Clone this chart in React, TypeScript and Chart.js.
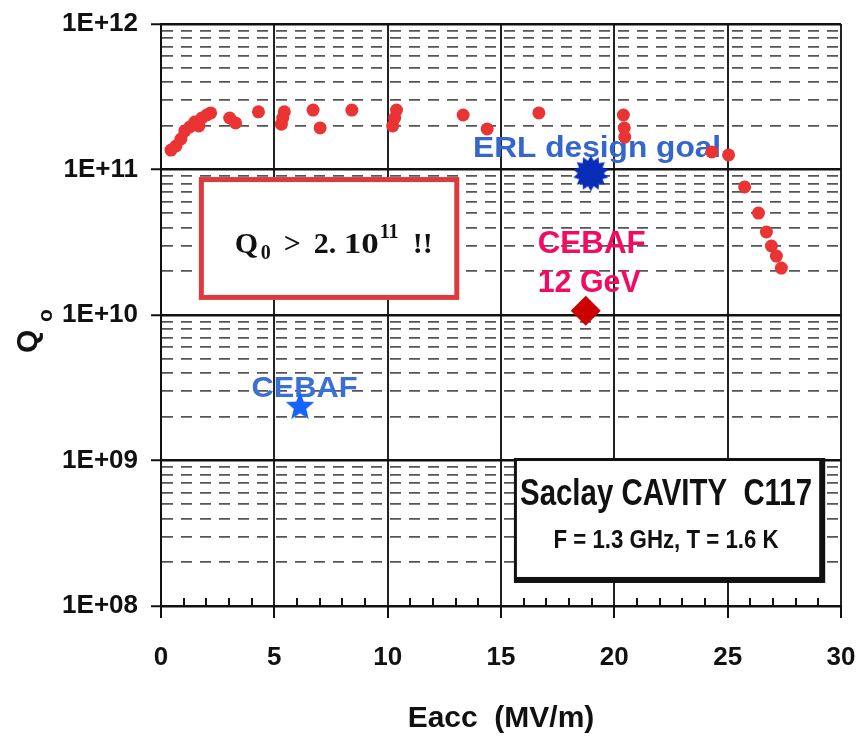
import React, { useEffect, useRef } from 'react';
import { Chart, registerables } from 'chart.js';

Chart.register(...registerables);

// ---------- data ----------
const measuredEacc = [0.44, 0.66, 0.88, 1.05, 1.27, 1.49, 1.67, 1.8, 2.02, 2.19, 3.03, 3.29, 4.3, 5.31, 5.37, 5.44, 6.71, 7.02, 8.42, 10.22, 10.31, 10.39, 13.33, 14.39, 16.67, 20.4, 20.44, 20.46, 24.3, 25.04, 25.75, 26.36, 26.71, 26.93, 27.15, 27.37];
const measuredQ0 = [1.36e11, 1.45e11, 1.62e11, 1.84e11, 1.96e11, 2.12e11, 1.99e11, 2.26e11, 2.37e11, 2.45e11, 2.26e11, 2.09e11, 2.49e11, 2.05e11, 2.26e11, 2.49e11, 2.56e11, 1.93e11, 2.56e11, 1.99e11, 2.26e11, 2.56e11, 2.37e11, 1.9e11, 2.45e11, 2.37e11, 1.93e11, 1.67e11, 1.32e11, 1.26e11, 7.59e10, 5.02e10, 3.72e10, 2.98e10, 2.54e10, 2.1e10];

const erlEacc = [18.96];
const erlQ0 = [9.4e10];
const cebaf12Eacc = [18.74];
const cebaf12Q0 = [1.07e10];
const cebafEacc = [6.13];
const cebafQ0 = [2.34e9];

const yDecades = [1e8, 1e9, 1e10, 1e11, 1e12];
const yTickLabels = ['1E+08', '1E+09', '1E+10', '1E+11', '1E+12'];
const yMinorFactors = [2, 3, 4, 5, 6, 7, 8, 9];
const xMajorValues = [0, 5, 10, 15, 20, 25, 30];
const xTickLabels = ['0', '5', '10', '15', '20', '25', '30'];

const W = 859;
const H = 743;
const SANS = "'Liberation Sans', Arial, sans-serif";
const SERIF = "'Liberation Serif', 'Times New Roman', serif";

const isMajorY = (v: number) => yDecades.some((d) => Math.abs(v - d) / d < 1e-6);
const isMajorX = (v: number) => xMajorValues.some((d) => Math.abs(v - d) < 1e-6);

function makeStar(points: number, outer: number, inner: number, color: string) {
  const size = Math.ceil(outer * 2 + 2);
  const c = document.createElement('canvas');
  c.width = size;
  c.height = size;
  const g = c.getContext('2d')!;
  g.fillStyle = color;
  g.beginPath();
  for (let i = 0; i < points * 2; i++) {
    const r = i % 2 === 0 ? outer : inner;
    const a = -Math.PI / 2 + (i * Math.PI) / points;
    const X = size / 2 + r * Math.cos(a);
    const Y = size / 2 + r * Math.sin(a);
    if (i === 0) g.moveTo(X, Y);
    else g.lineTo(X, Y);
  }
  g.closePath();
  g.fill();
  return c;
}

function fitText(ctx: CanvasRenderingContext2D, text: string, x: number, y: number, font: string, color: string, targetWidth?: number, align: 'left' | 'center' = 'left') {
  ctx.save();
  ctx.font = font;
  ctx.fillStyle = color;
  ctx.textBaseline = 'alphabetic';
  ctx.textAlign = 'left';
  const w = ctx.measureText(text).width;
  const sx = targetWidth ? targetWidth / w : 1;
  const startX = align === 'center' ? x - (w * sx) / 2 : x;
  ctx.translate(startX, y);
  ctx.scale(sx, 1);
  ctx.fillText(text, 0, 0);
  ctx.restore();
}

const overlayPlugin = {
  id: 'overlay',
  beforeDatasetsDraw(chart: any) {
    const { ctx, chartArea } = chart;
    const xs = chart.scales.x;
    const ys = chart.scales.y;
    const px = (v: number) => xs.getPixelForValue(v);
    const py = (v: number) => ys.getPixelForValue(v);

    // minor ticks on the x axis, pointing inwards
    ctx.save();
    ctx.strokeStyle = '#111';
    ctx.lineWidth = 2;
    for (let v = 1; v < 30; v++) {
      if (isMajorX(v)) continue;
      const X = Math.round(px(v));
      ctx.beginPath();
      ctx.moveTo(X, chartArea.bottom);
      ctx.lineTo(X, chartArea.bottom - 8);
      ctx.stroke();
    }
    ctx.restore();

    // red box with Q0 > 2.10^11 !!
    {
      const x1 = px(1.67), x2 = px(13.16), y1 = py(8.87e10), y2 = py(1.27e10);
      ctx.save();
      ctx.fillStyle = '#ffffff';
      ctx.fillRect(x1, y1, x2 - x1, y2 - y1);
      ctx.strokeStyle = '#dc3a3c';
      ctx.lineWidth = 5;
      ctx.strokeRect(x1 + 2.5, y1 + 2.5, x2 - x1 - 5, y2 - y1 - 5);
      ctx.restore();
      const X0 = px(3.25);
      const Y0 = py(2.67e10);
      const big = `bold 30px ${SERIF}`;
      const small = `bold 20px ${SERIF}`;
      fitText(ctx, 'Q', X0, Y0, big, '#111');
      fitText(ctx, '0', X0 + 26, Y0 + 6, small, '#111');
      fitText(ctx, '>', X0 + 49, Y0, big, '#111');
      fitText(ctx, '2.', X0 + 79, Y0, big, '#111');
      fitText(ctx, '10', X0 + 109, Y0, big, '#111', 35);
      fitText(ctx, '11', X0 + 145, Y0 - 15, small, '#111');
      fitText(ctx, '!!', X0 + 178, Y0, big, '#111');
    }

    // Saclay box
    {
      const x1 = px(15.57), x2 = px(29.17), y1 = py(1.04e9), y2 = py(1.51e8);
      ctx.save();
      ctx.fillStyle = '#111';
      ctx.fillRect(x1, y1, x2 - x1 + 3, y2 - y1 + 3);
      ctx.fillStyle = '#ffffff';
      ctx.fillRect(x1 + 3, y1 + 3, x2 - x1 - 6, y2 - y1 - 6);
      ctx.restore();
      const cx = (x1 + x2) / 2 - 2;
      fitText(ctx, 'Saclay CAVITY  C117', cx, py(4.94e8), `bold 36px ${SANS}`, '#111', 292, 'center');
      fitText(ctx, 'F = 1.3 GHz, T = 1.6 K', cx, py(2.51e8), `bold 25px ${SANS}`, '#111', 225, 'center');
    }

    // marker labels
    fitText(ctx, 'ERL design goal', px(13.77), py(1.22e11), `bold 30px ${SANS}`, '#3566cc', 248);
    fitText(ctx, 'CEBAF', px(16.62), py(2.65e10), `bold 31px ${SANS}`, '#f50a62', 108);
    fitText(ctx, '12 GeV', px(16.62), py(1.445e10), `bold 31px ${SANS}`, '#f50a62', 103);
    fitText(ctx, 'CEBAF', px(3.99), py(2.745e9), `bold 30px ${SANS}`, '#3a6fd6', 106);
  },
  afterDraw(chart: any) {
    const { ctx } = chart;
    // y axis title: Q with subscript o
    ctx.save();
    ctx.translate(37, 353);
    ctx.rotate(-Math.PI / 2);
    ctx.fillStyle = '#111';
    ctx.textBaseline = 'alphabetic';
    ctx.textAlign = 'left';
    ctx.font = `bold 30px ${SANS}`;
    ctx.fillText('Q', 0, 0);
    ctx.font = `bold 21px ${SANS}`;
    ctx.fillText('o', 31, 15);
    ctx.restore();
  },
};

export default function App() {
  const ref = useRef<HTMLCanvasElement | null>(null);

  useEffect(() => {
    if (!ref.current) return;
    const erlStyle = makeStar(14, 18, 13, '#0a2db8');
    const starStyle = makeStar(5, 15, 6.5, '#1463fb');

    const chart = new Chart(ref.current, {
      type: 'scatter',
      data: {
        datasets: [
          {
            data: measuredEacc.map((x, i) => ({ x, y: measuredQ0[i] })),
            pointRadius: 6.5,
            pointStyle: 'circle',
            backgroundColor: '#ea3333',
            borderWidth: 0,
          },
          {
            data: erlEacc.map((x, i) => ({ x, y: erlQ0[i] })),
            pointRadius: 18,
            pointStyle: erlStyle as any,
            backgroundColor: '#0a2db8',
            borderWidth: 0,
          },
          {
            data: cebaf12Eacc.map((x, i) => ({ x, y: cebaf12Q0[i] })),
            pointRadius: 15,
            pointStyle: 'rectRot',
            backgroundColor: '#cc0000',
            borderWidth: 0,
          },
          {
            data: cebafEacc.map((x, i) => ({ x, y: cebafQ0[i] })),
            pointRadius: 15,
            pointStyle: starStyle as any,
            backgroundColor: '#1463fb',
            borderWidth: 0,
          },
        ],
      },
      options: {
        responsive: false,
        animation: false,
        events: [],
        layout: { padding: { top: 24, right: 14, left: 0, bottom: 0 } },
        plugins: {
          legend: { display: false },
          tooltip: { enabled: false },
        },
        scales: {
          x: {
            type: 'linear',
            min: 0,
            max: 30,
            afterBuildTicks: (s: any) => {
              const t = [];
              for (let v = 0; v <= 30; v++) t.push({ value: v });
              s.ticks = t;
            },
            afterFit: (s: any) => {
              s.height = H - 606;
              s.paddingLeft = 0;
              s.paddingRight = 0;
            },
            grid: {
              color: (c: any) => (c.tick && isMajorX(c.tick.value) ? '#222' : 'rgba(0,0,0,0)'),
              lineWidth: 2,
              tickColor: (c: any) => (c.tick && isMajorX(c.tick.value) ? '#111' : 'rgba(0,0,0,0)'),
              tickLength: 12,
              tickWidth: 2,
            },
            border: { color: '#111', width: 2 },
            ticks: {
              autoSkip: false,
              maxRotation: 0,
              padding: 24,
              color: '#111',
              font: { family: SANS, size: 26, weight: 'bold' },
              callback: (v: any) => {
                const i = xMajorValues.findIndex((d) => Math.abs(d - Number(v)) < 1e-6);
                return i >= 0 ? xTickLabels[i] : '';
              },
            },
            title: {
              display: true,
              text: 'Eacc  (MV/m)',
              color: '#111',
              font: { family: SANS, size: 30, weight: 'bold' },
              padding: { top: 0, bottom: 6 },
            },
          },
          y: {
            type: 'logarithmic',
            min: 1e8,
            max: 1e12,
            afterBuildTicks: (s: any) => {
              const t: any[] = [];
              yDecades.forEach((d, i) => {
                t.push({ value: d, major: true });
                if (i < yDecades.length - 1) yMinorFactors.forEach((f) => t.push({ value: d * f }));
              });
              s.ticks = t;
            },
            afterFit: (s: any) => {
              s.width = 161;
              s.paddingTop = 0;
              s.paddingBottom = 0;
            },
            grid: {
              color: (c: any) => (c.tick && isMajorY(c.tick.value) ? '#111' : '#555'),
              lineWidth: (c: any) => (c.tick && isMajorY(c.tick.value) ? 2.5 : 1.8),
              tickColor: (c: any) => (c.tick && isMajorY(c.tick.value) ? '#111' : 'rgba(0,0,0,0)'),
              tickLength: 10,
              tickWidth: 2,
            },
            border: {
              color: '#111',
              width: 2,
              dash: (c: any) => (c.tick && !isMajorY(c.tick.value) ? [11, 8] : []),
            } as any,
            ticks: {
              autoSkip: false,
              padding: 13,
              color: '#111',
              font: { family: SANS, size: 26, weight: 'bold' },
              callback: (v: any) => {
                const i = yDecades.findIndex((d) => Math.abs(d - Number(v)) / d < 1e-6);
                return i >= 0 ? yTickLabels[i] : '';
              },
            },
          },
        },
      } as any,
      plugins: [overlayPlugin],
    });
    return () => chart.destroy();
  }, []);

  return (
    <div style={{ position: 'fixed', left: 0, top: 0, width: W, height: H, background: '#fff' }}>
      <canvas ref={ref} width={W} height={H} style={{ display: 'block' }} />
    </div>
  );
}
